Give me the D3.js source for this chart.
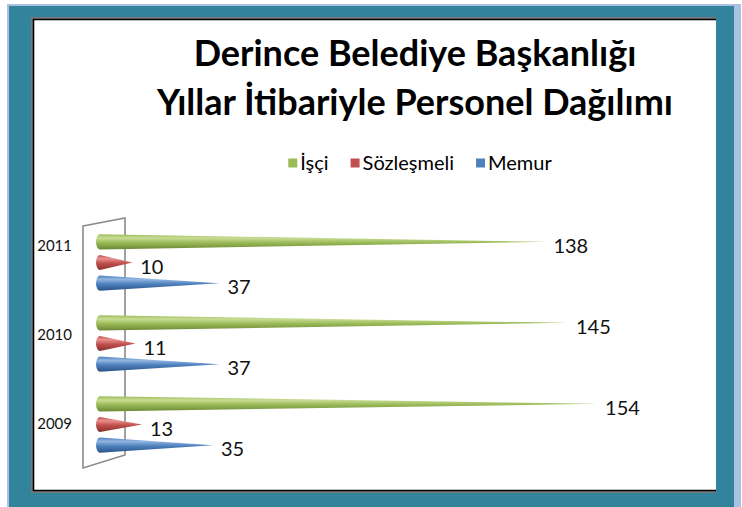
<!DOCTYPE html>
<html>
<head>
<meta charset="utf-8">
<script src="https://cdn.jsdelivr.net/npm/d3@7"></script>
<style>
  body { margin: 0; background: #fff; }
  svg text { font-family: Lato, "Noto Sans", sans-serif; }
</style>
</head>
<body>
<svg id="chart" width="742" height="507"></svg>
<script>
// chart data
const years = ["2011", "2010", "2009"];
const seriesNames = ["İşçi", "Sözleşmeli", "Memur"];
const isci = [138, 145, 154];
const sozlesmeli = [10, 11, 13];
const memur = [37, 37, 35];
const titleLines = ["Derince Belediye Başkanlığı", "Yıllar İtibariyle Personel Dağılımı"];

const colors = {
  "İşçi": ["#c9dd95", "#9bbb59", "#6c8834"],
  "Sözleşmeli": ["#e9908d", "#c0504d", "#8a2f2c"],
  "Memur": ["#93b6e2", "#4f81bd", "#2a5389"]
};

const width = 742, height = 507

const svg = d3.select("#chart")

// frame
svg.append("rect").attr("x", 7).attr("y", 4).attr("width", 734).attr("height", 510).attr("fill", "#a9c2e2")
svg.append("rect").attr("x", 9).attr("y", 6).attr("width", 725).attr("height", 510).attr("fill", "#31849b")
svg.append("rect").attr("x", 33).attr("y", 19).attr("width", 683).attr("height", 472).attr("fill", "#fff")
// border on top, left and bottom only (right side is cut in the original)
svg.append("path")
  .attr("d", "M716,18.5 H32.5 V491.5 H716")
  .attr("fill", "none").attr("stroke", "#777").attr("stroke-width", 3)
svg.append("path")
  .attr("d", "M716,19.5 H33.5 V490.5 H716")
  .attr("fill", "none").attr("stroke", "#000").attr("stroke-width", 1.6)

// title
svg.append("g").selectAll("text")
  .data(titleLines)
  .enter()
  .append("text")
    .attr("x", 415)
    .attr("y", (d, i) => 66 + i * 49)
    .attr("text-anchor", "middle")
    .attr("font-weight", "bold")
    .attr("font-size", "36px")
    .attr("fill", "#000")
    .text(d => d)

// legend
const legend = svg.append("g")
let lx = 0
seriesNames.forEach(function(name) {
  const g = legend.append("g")
  g.append("rect").attr("x", 0).attr("y", -4.5).attr("width", 9).attr("height", 9).attr("fill", colors[name][1])
  const t = g.append("text").attr("x", 12).attr("y", 7).attr("font-size", "20px").attr("fill", "#000").text(name)
  const w = 12 + t.node().getComputedTextLength()
  g.attr("transform", "translate(" + lx + ",0)")
  lx += w + 22
})
const legendWidth = lx - 22
legend.attr("transform", "translate(" + (420 - legendWidth / 2) + ",163)")

// scales
const x = d3.scaleLinear().domain([0, 180]).range([100, 681])
const y = d3.scaleBand().domain(years).range([222, 465])
const ySeries = d3.scaleBand().domain(seriesNames).range([-31, 31])
const yLabel = d3.scalePoint().domain(years).range([246, 424])

// back wall
const wallBack = x(0) - 17, wallFront = x(0) + 25
svg.append("polygon")
  .attr("points", [[wallBack, y.range()[0] + 4], [wallFront, y.range()[0] - 4],
                   [wallFront, y.range()[1] - 10], [wallBack, y.range()[1] + 3]].join(" "))
  .attr("fill", "#fff")
  .attr("stroke", "#8a8a8a")
  .attr("stroke-width", 1.6)

// year labels
const yAxis = svg.append("g")
  .attr("transform", "translate(75,0)")
  .call(d3.axisLeft(yLabel).tickSize(0).tickPadding(3))
yAxis.select(".domain").remove()
yAxis.selectAll("text")
  .attr("font-family", "Lato, 'Noto Sans', sans-serif")
  .attr("font-size", "15px")
  .attr("fill", "#111")

// gradients
const defs = svg.append("defs")
seriesNames.forEach(function(name, i) {
  const grad = defs.append("linearGradient")
    .attr("id", "grad" + i)
    .attr("x1", 0).attr("y1", 0).attr("x2", 0).attr("y2", 1)
  grad.append("stop").attr("offset", "0%").attr("stop-color", colors[name][1])
  grad.append("stop").attr("offset", "25%").attr("stop-color", colors[name][0])
  grad.append("stop").attr("offset", "55%").attr("stop-color", colors[name][1])
  grad.append("stop").attr("offset", "100%").attr("stop-color", colors[name][2])
})

// rows of data
const rows = []
years.forEach(function(yr, i) {
  rows.push({ year: yr, series: "İşçi", s: 0, value: isci[i] })
  rows.push({ year: yr, series: "Sözleşmeli", s: 1, value: sozlesmeli[i] })
  rows.push({ year: yr, series: "Memur", s: 2, value: memur[i] })
})

const half = 7.6
function cy(d) {
  return y(d.year) + y.bandwidth() / 2 + ySeries(d.series) + ySeries.bandwidth() / 2
}
function cone(d) {
  const c = cy(d)
  const x0 = x(0), xt = x(d.value)
  return "M" + x0 + "," + (c - half) +
         "L" + xt + "," + c +
         "L" + x0 + "," + (c + half) +
         "A4," + half + " 0 0 1 " + x0 + "," + (c - half) + "Z"
}

svg.append("g")
  .selectAll("path")
  .data(rows)
  .enter()
  .append("path")
    .attr("d", cone)
    .attr("fill", d => "url(#grad" + d.s + ")")

// value labels
svg.append("g")
  .selectAll("text")
  .data(rows)
  .enter()
  .append("text")
    .attr("x", d => x(d.value) + 8)
    .attr("y", d => cy(d) + 11)
    .attr("font-size", "20px")
    .attr("fill", "#111")
    .text(d => d.value)
</script>
</body>
</html>
